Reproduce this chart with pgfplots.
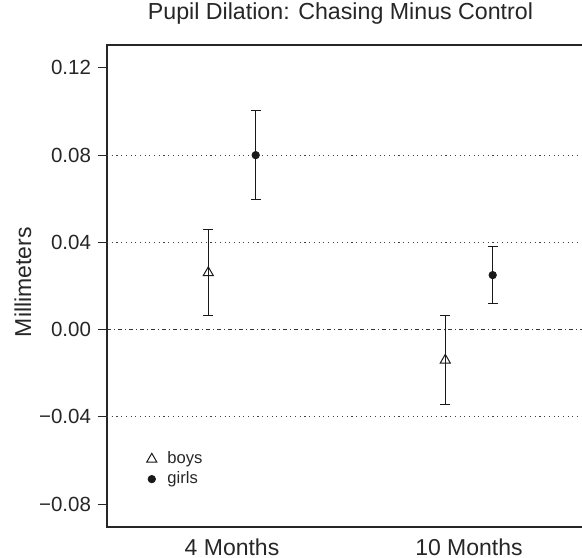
\documentclass[border=0pt]{standalone}
\usepackage{pgfplots}
\pgfplotsset{compat=1.18}
\usepackage{fontspec}
\setmainfont{Liberation Sans}

\begin{document}
\begin{tikzpicture}
\path[use as bounding box] (-53.5pt,-15pt) rectangle (237.5pt,263.5pt);
\begin{axis}[
    scale only axis,
    width=239pt, height=241pt,
    xmin=0.4726, xmax=2.4895,
    ymin=-0.0905, ymax=0.1305,
    axis line style={line width=0.6pt, black!85},
    xtick={1,2},
    xticklabels={4 Months,10 Months},
    x tick style={draw=none},
    ytick={-0.08,-0.04,0,0.04,0.08,0.12},
    yticklabels={−0.08,−0.04,0.00,0.04,0.08,0.12},
    ytick pos=left, xtick pos=bottom,
    tick align=outside,
    major tick length=4.5pt,
    y tick style={line width=0.6pt, black!85},
    yticklabel style={font=\fontsize{10.25}{12}\selectfont, text=black!85},
    xticklabel style={font=\fontsize{11.5}{13}\selectfont, text=black!85,
        inner sep=0pt, yshift=-1.4pt},
    ylabel={Millimeters},
    ylabel style={at={(axis description cs:-0.1757,0.508)}, anchor=center,
        font=\fontsize{11.5}{13}\selectfont, text=black!85},
    title={Pupil Dilation: Chasing Minus Control},
    title style={at={(axis description cs:0.4885,1.028)}, anchor=base,
        font=\fontsize{11.6}{13}\selectfont, text=black!85},
    legend style={draw=none, fill=none, inner sep=0pt,
        at={(axis description cs:0.0795,0.162)}, anchor=north west,
        font=\fontsize{8.3}{10}\selectfont, row sep=0.2pt,
        nodes={inner sep=1pt, text height=6pt, text depth=1.8pt, text=black!85}},
    legend cell align=left,
    legend image code/.code={
        \draw[#1] plot coordinates {(3pt,0pt)};
        \path (0pt,0pt) (9.6pt,0pt);
    },
]
% reference lines
\addplot[forget plot, black!75, line width=0.55pt, dash pattern=on 0.55pt off 1.8pt]
    coordinates {(0.4726,0.08) (2.4895,0.08)};
\addplot[forget plot, black!75, line width=0.55pt, dash pattern=on 0.55pt off 1.8pt]
    coordinates {(0.4726,0.04) (2.4895,0.04)};
\addplot[forget plot, black!75, line width=0.55pt, dash pattern=on 0.55pt off 1.8pt]
    coordinates {(0.4726,-0.04) (2.4895,-0.04)};
\addplot[forget plot, black!80, line width=0.5pt, dash pattern=on 2pt off 1.5pt on 0.5pt off 1.5pt]
    coordinates {(0.4726,0) (2.4895,0)};

% boys
\addplot[only marks, mark=triangle, mark size=2.9pt,
    mark options={draw=black!90, fill=none, line width=0.5pt},
    error bars/.cd, y dir=both, y explicit,
    error bar style={line width=0.5pt, black!90},
    error mark options={rotate=90, mark size=2.5pt, line width=0.5pt, black!90}]
    coordinates {
        (0.9,0.0261) +- (0,0.0197)
        (1.9,-0.0140) +- (0,0.0204)
    };
\addlegendentry{boys}

% girls
\addplot[only marks, mark=*, mark size=1.85pt,
    mark options={draw=black!90, fill=black!90},
    error bars/.cd, y dir=both, y explicit,
    error bar style={line width=0.5pt, black!90},
    error mark options={rotate=90, mark size=2.5pt, line width=0.5pt, black!90}]
    coordinates {
        (1.1,0.0800) +- (0,0.0204)
        (2.1,0.0250) +- (0,0.0130)
    };
\addlegendentry{girls}
\end{axis}
\end{tikzpicture}
\end{document}
